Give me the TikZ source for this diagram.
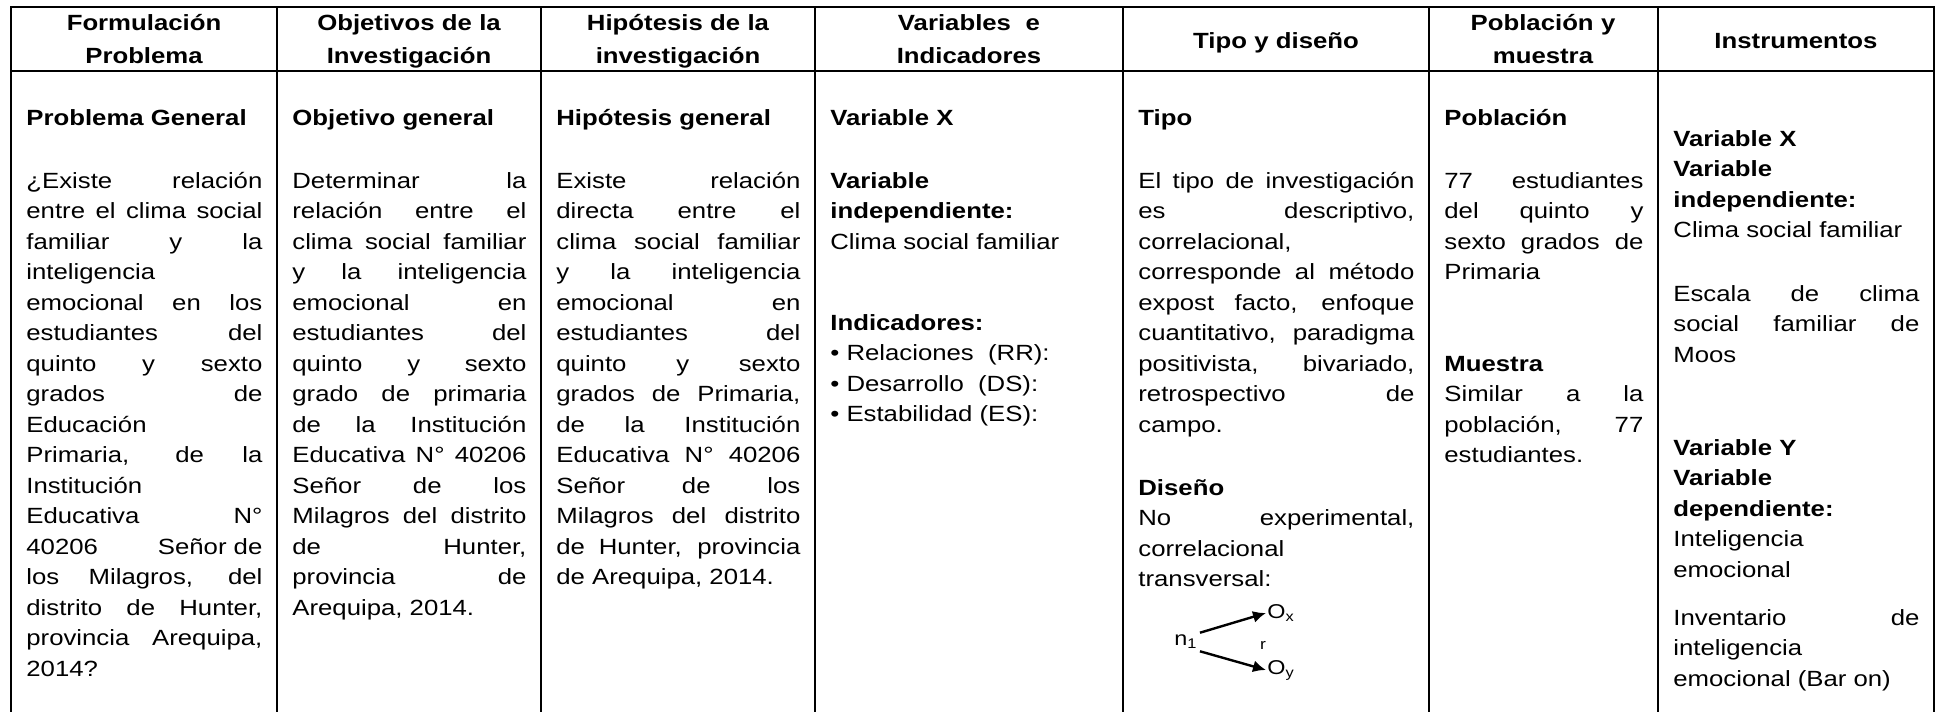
\documentclass[tikz,border=0pt]{standalone}
\usepackage{fontspec}
\setmainfont{Liberation Sans}[FakeStretch=1.17]
\usetikzlibrary{arrows.meta}
\newcommand*{\tbltop }{7}
\newcommand*{\tblbot }{712}
\newcommand*{\tblhead}{71}
\newcommand*{\tblleft}{11}
\newcommand*{\tblrght}{1934}
\tolerance=10000
\hbadness=10000
\hyphenpenalty=10000
\exhyphenpenalty=10000

\begin{document}
\begin{tikzpicture}[x=0.5pt, y=-0.5pt,
        rule/.style  = {line width=1.2pt, line join=miter},
        hd/.style    = {anchor=base, align=center, inner sep=0pt, text width=110pt, font=\fontsize{11}{16.5}\selectfont\bfseries},
        cell/.style  = {anchor=base west, align=justify, inner sep=0pt, font=\fontsize{11}{15.25}\selectfont},
        title/.style = {cell, font=\fontsize{11}{15.25}\selectfont\bfseries},
        arr/.style   = {-{Latex[length=6.5pt,width=6pt]}, line width=1.2pt}]
        \useasboundingbox (0,0) rectangle (1939,712);
        % table rules
        \draw [rule] (\tblleft,\tblbot) -- (\tblleft,\tbltop) -- (\tblrght,\tbltop) -- (\tblrght,\tblbot);
        \draw [rule] (\tblleft,\tblhead) -- (\tblrght,\tblhead);
        \foreach \x in {277,541,815,1123,1429,1658}
            \draw [rule] (\x,\tbltop) -- (\x,\tblbot);
        % header
        \node [hd] (hA) at ( 144,31) {Formulación\\Problema};
        \node [hd] (hB) at ( 409,31) {Objetivos de la\\Investigación};
        \node [hd] (hC) at ( 678,31) {Hipótesis de la\\investigación};
        \node [hd] (hD) at ( 969,31) {Variables\ \ e\\Indicadores};
        \node [hd] (hE) at (1276,48) {Tipo y diseño};
        \node [hd] (hF) at (1543,31) {Población y\\muestra};
        \node [hd] (hG) at (1796,48) {Instrumentos};
        % problema
        \node [title] (probT) at (26,125) {Problema General};
        \node [cell, text width=118pt] (probB) at (26,188) {¿Existe relación\linebreak entre el clima social\linebreak familiar y la\linebreak inteligencia\linebreak emocional en los\linebreak estudiantes del\linebreak quinto y sexto\linebreak grados de\linebreak Educación\linebreak Primaria, de la\linebreak Institución\linebreak Educativa N°\linebreak 40206\hfill Señor de\linebreak los Milagros, del\linebreak distrito de Hunter,\linebreak provincia Arequipa,\linebreak 2014?};
        % objetivos
        \node [title] (objT) at (292,125) {Objetivo general};
        \node [cell, text width=117pt] (objB) at (292,188) {Determinar la\linebreak relación entre el\linebreak clima social familiar\linebreak y la inteligencia\linebreak emocional en\linebreak estudiantes del\linebreak quinto y sexto\linebreak grado de primaria\linebreak de la Institución\linebreak Educativa N° 40206\linebreak Señor de los\linebreak Milagros del distrito\linebreak de Hunter,\linebreak provincia de\linebreak Arequipa, 2014.};
        % hipotesis
        \node [title] (hipT) at (556,125) {Hipótesis general};
        \node [cell, text width=122pt] (hipB) at (556,188) {Existe relación\linebreak directa entre el\linebreak clima social familiar\linebreak y la inteligencia\linebreak emocional en\linebreak estudiantes del\linebreak quinto y sexto\linebreak grados de Primaria,\linebreak de la Institución\linebreak Educativa N° 40206\linebreak Señor de los\linebreak Milagros del distrito\linebreak de Hunter, provincia\linebreak de Arequipa, 2014.};
        % variables
        \node [title] (varT) at (830,125) {Variable X};
        \node [cell, text width=139pt] (varI) at (830,188) {\textbf{Variable\\independiente:}\\Clima social familiar};
        \node [cell, text width=139pt] (varL) at (830,330) {\textbf{Indicadores:}\\• Relaciones\ \ (RR):\\• Desarrollo\ \ (DS):\\• Estabilidad (ES):};
        % tipo y diseno
        \node [title] (tipT) at (1138,125) {Tipo};
        \node [cell, text width=138pt] (tipB) at (1138,188) {El tipo de investigación\linebreak es descriptivo,\linebreak correlacional,\linebreak corresponde al método\linebreak expost facto, enfoque\linebreak cuantitativo, paradigma\linebreak positivista, bivariado,\linebreak retrospectivo de\linebreak campo.};
        \node [cell, text width=138pt] (disB) at (1138,495) {\textbf{Diseño}\\No experimental,\linebreak correlacional\linebreak transversal:};
        \node [inner sep=1pt] (n1) at (1186,642) {n\textsubscript{1}};
        \node [inner sep=0.5pt, anchor=west] (ox) at (1266,613) {O\textsubscript{x}};
        \node [inner sep=0.5pt, anchor=west] (oy) at (1266,670) {O\textsubscript{y}};
        \node [inner sep=0pt, font=\fontsize{7.5}{9}\selectfont] (rr) at (1263,645) {r};
        \draw [arr] (n1.north east) -- (ox.west);
        \draw [arr] (n1.south east) -- (oy.west);
        % poblacion
        \node [title] (pobT) at (1444,125) {Población};
        \node [cell, text width=99.5pt] (pobB) at (1444,188) {77 estudiantes\linebreak del quinto y\linebreak sexto grados de\linebreak Primaria};
        \node [cell, text width=99.5pt] (musB) at (1444,371) {\textbf{Muestra}\\Similar a la\linebreak población, 77\linebreak estudiantes.};
        % instrumentos
        \node [cell, text width=123pt] (insX)  at (1673,146) {\textbf{Variable X\\Variable\\independiente:}\\Clima social familiar};
        \node [cell, text width=123pt] (insXE) at (1673,301) {Escala de clima\linebreak social familiar de\linebreak Moos};
        \node [cell, text width=123pt] (insY)  at (1673,455) {\textbf{Variable Y\\Variable\\dependiente:}\\Inteligencia\\emocional};
        \node [cell, text width=123pt] (insYE) at (1673,625) {Inventario de\linebreak inteligencia\linebreak emocional (Bar on)};
    \end{tikzpicture}
\end{document}
